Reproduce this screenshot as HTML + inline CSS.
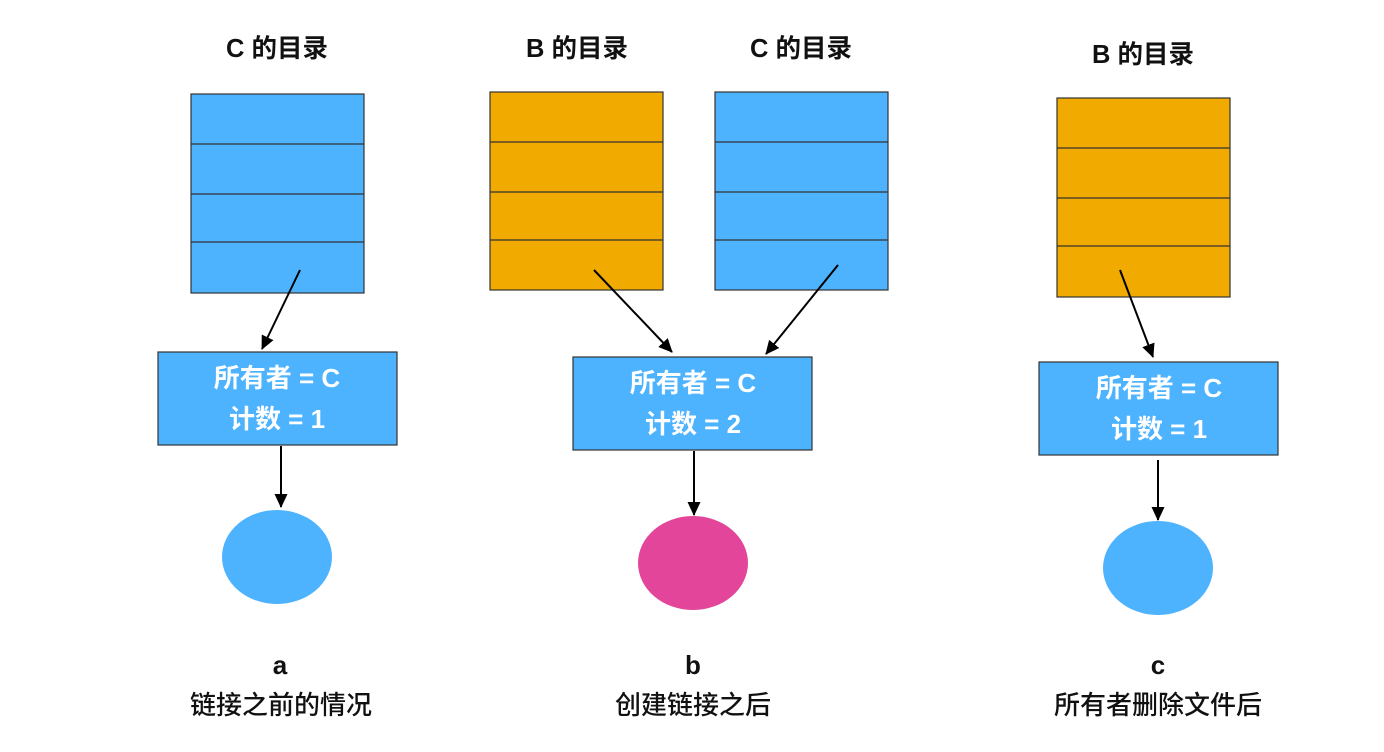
<!DOCTYPE html>
<html><head><meta charset="utf-8"><style>
html,body{margin:0;padding:0;background:#fff;width:1384px;height:752px;overflow:hidden}
svg text{font-family:"Liberation Sans","Noto Sans CJK SC",sans-serif}
</style></head><body>
<svg width="1384" height="752" viewBox="0 0 1384 752" xmlns="http://www.w3.org/2000/svg">
<defs>
<marker id="ah" markerWidth="14" markerHeight="14" refX="13" refY="6.5" orient="auto" markerUnits="userSpaceOnUse">
<path d="M0,0 L14,6.5 L0,13 z" fill="#000"/></marker>
</defs>
<g font-size="25.5" font-weight="bold" text-anchor="middle" fill="#111">
<text x="277" y="57">C 的目录</text>
<text x="577" y="57">B 的目录</text>
<text x="801" y="57">C 的目录</text>
<text x="1143" y="63">B 的目录</text>
</g>
<g stroke="#333" stroke-width="1.2">
<rect x="191" y="94" width="173" height="199" fill="#4DB3FF"/>
<line x1="191" y1="144" x2="364" y2="144"/><line x1="191" y1="194" x2="364" y2="194"/><line x1="191" y1="242" x2="364" y2="242"/>
<rect x="490" y="92" width="173" height="198" fill="#F0AA00"/>
<line x1="490" y1="142" x2="663" y2="142"/><line x1="490" y1="192" x2="663" y2="192"/><line x1="490" y1="240" x2="663" y2="240"/>
<rect x="715" y="92" width="173" height="198" fill="#4DB3FF"/>
<line x1="715" y1="142" x2="888" y2="142"/><line x1="715" y1="192" x2="888" y2="192"/><line x1="715" y1="240" x2="888" y2="240"/>
<rect x="1057" y="98" width="173" height="199" fill="#F0AA00"/>
<line x1="1057" y1="148" x2="1230" y2="148"/><line x1="1057" y1="198" x2="1230" y2="198"/><line x1="1057" y1="246" x2="1230" y2="246"/>
<rect x="158" y="352" width="239" height="93" fill="#4DB3FF"/>
<rect x="573" y="357" width="239" height="93" fill="#4DB3FF"/>
<rect x="1039" y="362" width="239" height="93" fill="#4DB3FF"/>
</g>
<g stroke="#000" stroke-width="2" marker-end="url(#ah)">
<line x1="300" y1="270" x2="262" y2="349"/>
<line x1="281" y1="446" x2="281" y2="507"/>
<line x1="594" y1="270" x2="672" y2="352"/>
<line x1="838" y1="265" x2="766" y2="354"/>
<line x1="694" y1="451" x2="694" y2="515"/>
<line x1="1120" y1="270" x2="1153" y2="357"/>
<line x1="1158" y1="460" x2="1158" y2="520"/>
</g>
<ellipse cx="277" cy="557" rx="55" ry="47" fill="#4DB3FF"/>
<ellipse cx="693" cy="563" rx="55" ry="47" fill="#E2459A"/>
<ellipse cx="1158" cy="568" rx="55" ry="47" fill="#4DB3FF"/>
<g font-size="26" font-weight="bold" text-anchor="middle" fill="#fff">
<text x="277" y="387">所有者 = C</text><text x="277" y="428">计数 = 1</text>
<text x="693" y="392">所有者 = C</text><text x="693" y="433">计数 = 2</text>
<text x="1159" y="397">所有者 = C</text><text x="1159" y="438">计数 = 1</text>
</g>
<g font-size="26" font-weight="bold" text-anchor="middle" fill="#111">
<text x="280" y="674">a</text>
<text x="693" y="674">b</text>
<text x="1158" y="674">c</text>
</g>
<g font-size="26" font-weight="500" text-anchor="middle" fill="#111">
<text x="281" y="714">链接之前的情况</text>
<text x="693" y="714">创建链接之后</text>
<text x="1158" y="714">所有者删除文件后</text>
</g>
</svg>
</body></html>
